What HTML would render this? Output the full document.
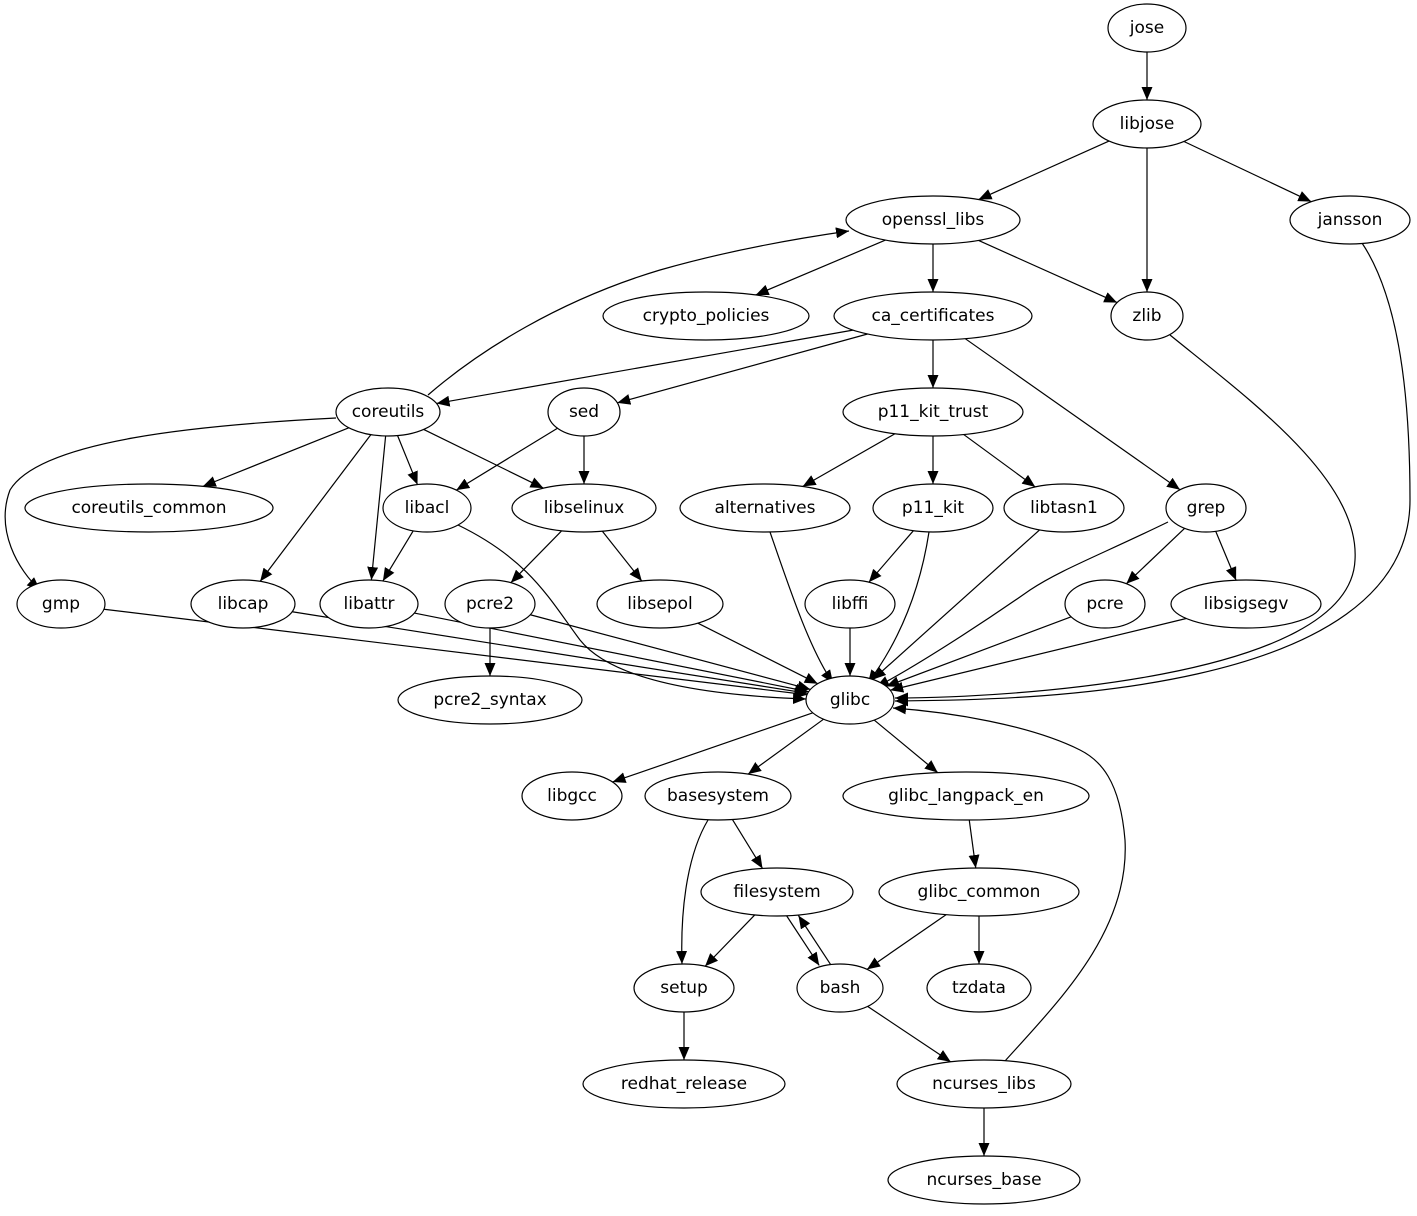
<!DOCTYPE html>
<html><head><meta charset="utf-8"><style>
html,body{margin:0;padding:0;background:#fff}
svg text{font-family:"DejaVu Sans","Liberation Sans",sans-serif;font-size:17px;text-anchor:middle;dominant-baseline:central}
</style></head><body>
<svg id="g" width="1417" height="1211" viewBox="0 0 1417 1211" xmlns="http://www.w3.org/2000/svg">
<defs><marker id="a" markerWidth="14" markerHeight="11" refX="13" refY="5.5" orient="auto" markerUnits="userSpaceOnUse"><path d="M0,0 L13,5.5 L0,11 Z" fill="#000"/></marker></defs>
<g id="edges" fill="none" stroke="#000" stroke-width="1.2"></g>
<g id="nodes"></g>
</svg>
<script>
var N={jose:[1147,28,39],libjose:[1147,124,54],openssl_libs:[933,220,87],jansson:[1350,220,60],
crypto_policies:[706,316,103],ca_certificates:[933,316,99],zlib:[1147,316,36],
coreutils:[388,412,52],sed:[584,412,36],p11_kit_trust:[933,412,90],
coreutils_common:[149,508,124],libacl:[427,508,44],libselinux:[584,508,72],alternatives:[765,508,85],
p11_kit:[933,508,60],libtasn1:[1064,508,60],grep:[1206,508,40],
gmp:[61,604,44],libcap:[243,604,52],libattr:[369,604,49],pcre2:[490,604,45],libsepol:[660,604,63],
libffi:[850,604,45],pcre:[1105,604,40],libsigsegv:[1246,604,75],
pcre2_syntax:[490,700,92],glibc:[850,700,44],libgcc:[572,796,50],basesystem:[718,796,73],
glibc_langpack_en:[966,796,123],filesystem:[777,892,76],glibc_common:[979,892,100],
setup:[684,988,50],bash:[840,988,43],tzdata:[979,988,52],redhat_release:[684,1084,101],
ncurses_libs:[984,1084,87],ncurses_base:[984,1180,96]};
var RY=24,NS="http://www.w3.org/2000/svg";
var ng=document.getElementById('nodes'),eg=document.getElementById('edges');
for(var k in N){var n=N[k];var e=document.createElementNS(NS,'ellipse');
e.setAttribute('cx',n[0]);e.setAttribute('cy',n[1]);e.setAttribute('rx',n[2]);e.setAttribute('ry',RY);
e.setAttribute('fill','#fff');e.setAttribute('stroke','#000');e.setAttribute('stroke-width','1.2');ng.appendChild(e);
var t=document.createElementNS(NS,'text');t.setAttribute('x',n[0]);t.setAttribute('y',n[1]);t.textContent=k;ng.appendChild(t);}
function bd(n,dx,dy){var L=Math.sqrt(dx*dx+dy*dy);var ux=dx/L,uy=dy/L;
var s=1/Math.sqrt((ux*ux)/(n[2]*n[2])+(uy*uy)/(RY*RY));return [n[0]+ux*s,n[1]+uy*s];}
function line(a,b,ox,oy){var A=N[a],B=N[b];ox=ox||0;oy=oy||0;var dx=B[0]-A[0],dy=B[1]-A[1];
var p=bd(A,dx,dy),q=bd(B,-dx,-dy);path('M'+(p[0]+ox)+','+p[1]+' L'+(q[0]+ox)+','+q[1]);}
function path(d){var p=document.createElementNS(NS,'path');p.setAttribute('d',d);p.setAttribute('marker-end','url(#a)');eg.appendChild(p);}
var S=[['jose','libjose'],['libjose','openssl_libs'],['libjose','zlib'],['libjose','jansson'],
['openssl_libs','crypto_policies'],['openssl_libs','ca_certificates'],['openssl_libs','zlib'],
['ca_certificates','coreutils'],['ca_certificates','sed'],['ca_certificates','p11_kit_trust'],['ca_certificates','grep'],
['coreutils','coreutils_common'],['coreutils','libacl'],['coreutils','libselinux'],['coreutils','libcap'],['coreutils','libattr'],
['sed','libacl'],['sed','libselinux'],['p11_kit_trust','alternatives'],['p11_kit_trust','p11_kit'],['p11_kit_trust','libtasn1'],
['libacl','libattr'],['libselinux','pcre2'],['libselinux','libsepol'],['p11_kit','libffi'],['grep','pcre'],['grep','libsigsegv'],
['pcre2','pcre2_syntax'],['gmp','glibc'],['libcap','glibc'],['libattr','glibc'],['pcre2','glibc'],['libsepol','glibc'],
['libffi','glibc'],['libtasn1','glibc'],['pcre','glibc'],['libsigsegv','glibc'],
['glibc','libgcc'],['glibc','basesystem'],['glibc','glibc_langpack_en'],['basesystem','filesystem'],
['glibc_langpack_en','glibc_common'],['filesystem','setup'],['glibc_common','bash'],['glibc_common','tzdata'],
['setup','redhat_release'],['bash','ncurses_libs'],['ncurses_libs','ncurses_base']];
S.forEach(function(s){line(s[0],s[1]);});
line('filesystem','bash',-6);line('bash','filesystem',6);
path('M428,395 C480,350 560,300 660,270 C730,250 800,238 849,231');
path('M336,418 C200,425 40,440 10,490 C-5,530 18,570 40,590');
path('M458,525 C530,560 550,600 580,640 C620,690 750,697 806,699');
path('M1362,243 C1400,300 1410,400 1410,500 C1410,700 1000,700 895,701');
path('M1170,335 C1250,400 1360,480 1355,560 C1350,680 1000,698 895,698');
path('M1005,1061 C1060,1000 1130,930 1125,840 C1120,780 1100,760 1080,750 C1030,725 950,712 893,708');
path('M770,532 C790,590 810,650 833,683');
path('M929,532 C920,590 900,640 868,683');
path('M1168,522 C1100,555 1060,570 1030,590 C980,625 910,670 876,687');
path('M708,820 C690,850 680,900 682,964');
</script>
</body></html>
